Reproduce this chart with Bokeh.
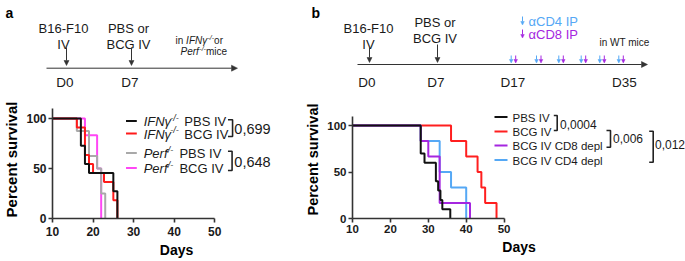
import numpy as np
from bokeh.plotting import figure
from bokeh.layouts import column, row
from bokeh.models import Range1d, Arrow, NormalHead, FixedTicker
from bokeh.core.properties import value
from bokeh.embed import file_html
from bokeh.resources import INLINE

FONT = "Liberation Sans"
TXT = "#1a1a1a"

# ---------------- data: panel a (Kaplan-Meier) ----------------
a_names_main = ["IFNγ", "IFNγ", "Perf", "Perf"]
a_names_rest = ["PBS IV", "BCG IV", "PBS IV", "BCG IV"]
a_colors = ["#111111", "#ff1a1a", "#a9a9a9", "#ff47f5"]
a_ifn_pbs_days = [0, 17, 18, 19, 25, 26]
a_ifn_pbs_surv = [100, 72.7, 54.5, 45.5, 27.3, 0]
a_ifn_bcg_days = [0, 16, 18, 19, 20, 22.7, 25, 26]
a_ifn_bcg_surv = [100, 90.9, 63.6, 54.5, 45.5, 36.4, 18.2, 0]
a_perf_pbs_days = [0, 16, 19, 21, 22, 23]
a_perf_pbs_surv = [100, 87.5, 62.5, 50, 25, 0]
a_perf_bcg_days = [0, 18, 21, 22]
a_perf_bcg_surv = [100, 83.3, 50, 0]
a_pvalues = ["0,699", "0,648"]

# ---------------- data: panel b (Kaplan-Meier) ----------------
b_names = ["PBS IV", "BCG IV", "BCG IV CD8 depl", "BCG IV CD4 depl"]
b_colors = ["#111111", "#ff1f1f", "#a526e0", "#55a8f5"]
b_pbs_days = [0, 28, 29, 32, 32.6, 33.2, 33.7, 35.8]
b_pbs_surv = [100, 70, 60, 40, 30, 20, 10, 0]
b_bcg_days = [0, 36, 40, 43, 44, 45, 48]
b_bcg_surv = [100, 83.3, 66.7, 50, 33.3, 16.7, 0]
b_cd8_days = [0, 28, 30, 33, 41]
b_cd8_surv = [100, 83.3, 66.7, 16.7, 0]
b_cd4_days = [0, 28, 33, 36, 40]
b_cd4_surv = [100, 83.3, 50, 33.3, 0]
b_pvalues = ["0,0004", "0,006", "0,012"]

x_ticks = [10, 20, 30, 40, 50]
y_ticks = [0, 50, 100]

# ---------------- schematic (timelines) ----------------
tl_a_events = [["B16-F10", "IV"], ["PBS or", "BCG IV"]]
tl_a_days = ["D0", "D7"]
tl_b_events = [["B16-F10", "IV"], ["PBS or", "BCG IV"]]
tl_b_days = ["D0", "D7", "D17", "D35"]
tl_b_inject = ["αCD4 IP", "αCD8 IP"]


def txt(p, x, y, s, size, style="normal", color=TXT, align="left", baseline="alphabetic"):
    p.text(x=[x], y=[y], text=[s], text_font=value(FONT), text_font_size=f"{size}px",
           text_font_style=style, text_color=color, text_align=align, text_baseline=baseline)


def arrow(p, x0, y0, x1, y1, color="#333333", head=5, lw=1.0):
    p.add_layout(Arrow(x_start=x0, y_start=y0, x_end=x1, y_end=y1, line_color=color, line_width=lw,
                       end=NormalHead(size=head, fill_color=color, line_color=color, line_width=0.5)))


def schematic(width):
    p = figure(width=width, height=100, output_backend="svg", toolbar_location=None,
               x_range=Range1d(0, width), y_range=Range1d(100, 0),
               x_axis_location=None, y_axis_location=None,
               min_border=0, min_border_left=0, min_border_right=0, min_border_top=0, min_border_bottom=0)
    p.outline_line_color = None
    p.xgrid.visible = False
    p.ygrid.visible = False
    return p


# ---- timeline a ----
ta = schematic(300)
txt(ta, 5, 12.5, "a", 14, "bold", "#000000")
ev_x_a = [63, 128]
ar_x_a = [66, 131]
for ev, ex, axx, d in zip(tl_a_events, ev_x_a, ar_x_a, tl_a_days):
    txt(ta, ex, 28, ev[0], 13, align="center")
    txt(ta, ex, 44, ev[1], 13, align="center")
    arrow(ta, axx, 47, axx, 65, head=5)
    txt(ta, axx - 1.5, 82, d, 13.5, align="center")
arrow(ta, 46, 67.7, 237, 67.7, head=6)
txt(ta, 175, 40, "in ", 10, baseline="middle")
txt(ta, 185.6, 40, "IFNγ", 10, "italic", baseline="middle")
txt(ta, 207, 37, "-/-", 7, "italic", baseline="middle")
txt(ta, 213.6, 40, " or", 10, baseline="middle")
txt(ta, 180, 50.5, "Perf", 10, "italic", baseline="middle")
txt(ta, 198.8, 47.5, "-/-", 7, "italic", baseline="middle")
txt(ta, 205.4, 50.5, " mice", 10, baseline="middle")

# ---- timeline b ----
tb = schematic(385)
txt(tb, 11, 12.5, "b", 14, "bold", "#000000")
ev_x_b = [68, 134.5]
ev_y_b = [(28, 44), (22, 37.5)]
ar_x_b = [69, 137]
ar_y_b = [47, 44]
for ev, ex, (y1, y2), axx, ay0 in zip(tl_b_events, ev_x_b, ev_y_b, ar_x_b, ar_y_b):
    txt(tb, ex, y1, ev[0], 13, align="center")
    txt(tb, ex, y2, ev[1], 13, align="center")
    arrow(tb, axx, ay0, axx, 62, head=5)
day_x_b = [66.5, 135.5, 212.5, 324]
for d, dx in zip(tl_b_days, day_x_b):
    txt(tb, dx, 82, d, 13.5, align="center")
arrow(tb, 57, 64, 347, 64, head=6)
inj_x = [210.7, 236, 258.3, 280.7, 299.3, 318.3]
inj_cols = [b_colors[3], b_colors[2]]
for ix in inj_x:
    arrow(tb, ix, 55, ix, 62.5, color=inj_cols[0], head=3.5)
    arrow(tb, ix + 4.5, 55, ix + 4.5, 62.5, color=inj_cols[1], head=3.5)
for k, (lab, ly) in enumerate(zip(tl_b_inject, [20.5, 33.5])):
    arrow(tb, 222, ly - 4.5, 222, ly + 4, color=inj_cols[k], head=3.5)
    txt(tb, 228, ly, lab, 13, color=inj_cols[k], baseline="middle")
txt(tb, 299, 42, "in WT mice", 10, baseline="middle")


def style_axes(p, tick_size, label_size, x_stand, y_stand, xl_stand, yl_stand):
    p.outline_line_color = None
    p.xgrid.visible = False
    p.ygrid.visible = False
    for ax in (p.xaxis[0], p.yaxis[0]):
        ax.axis_line_color = "#333333"
        ax.axis_line_width = 1.6
        ax.major_tick_line_color = "#333333"
        ax.major_tick_line_width = 1.6
        ax.major_tick_out = 4
        ax.major_tick_in = 0
        ax.minor_tick_line_color = None
        ax.major_label_text_font = FONT
        ax.major_label_text_font_style = "bold"
        ax.major_label_text_font_size = f"{tick_size}px"
        ax.major_label_text_color = TXT
        ax.axis_label_text_font = FONT
        ax.axis_label_text_font_style = "bold"
        ax.axis_label_text_color = "#000000"
    p.xaxis.ticker = FixedTicker(ticks=x_ticks)
    p.yaxis.ticker = FixedTicker(ticks=y_ticks)
    p.xaxis.bounds = (10, 50)
    p.yaxis.bounds = (0, 110)
    p.xaxis.axis_label = "Days"
    p.yaxis.axis_label = "Percent survival"
    p.xaxis.axis_label_text_font_size = f"{label_size[0]}px"
    p.yaxis.axis_label_text_font_size = f"{label_size[1]}px"
    p.xaxis.major_label_standoff = x_stand
    p.yaxis.major_label_standoff = y_stand
    p.xaxis.axis_label_standoff = xl_stand
    p.yaxis.axis_label_standoff = yl_stand


# ---------------- panel a survival ----------------
AX0, ASX, AY0, ASY = 47.0, 4.1375, 218.0, 1.0
ax_ = lambda px: 10 + (px - AX0) / ASX
ay_ = lambda py: (AY0 - py) / ASY
pa = figure(width=300, height=161, output_backend="svg", toolbar_location=None,
            x_range=Range1d(10, ax_(300)), y_range=Range1d(0, ay_(100)),
            min_border_left=47, min_border_right=0, min_border_top=0, min_border_bottom=43)
style_axes(pa, 12, (14, 15), 4, 2, 3, 3)
a_series = [(a_ifn_pbs_days, a_ifn_pbs_surv), (a_ifn_bcg_days, a_ifn_bcg_surv),
            (a_perf_pbs_days, a_perf_pbs_surv), (a_perf_bcg_days, a_perf_bcg_surv)]
for (d, s), c in reversed(list(zip(a_series, a_colors))):
    pa.step(d, s, mode="after", line_color=c, line_width=2)
a_rows = [120.5, 133, 152.5, 167.5]
a_sup_x = [167, 167, 161.5, 161.5]
a_rest_x = [181.5, 181.5, 176.5, 176.5]
for main, rest, c, ry, sx, rx in zip(a_names_main, a_names_rest, a_colors, a_rows, a_sup_x, a_rest_x):
    pa.line([ax_(122), ax_(133)], [ay_(ry), ay_(ry)], line_color=c, line_width=2)
    txt(pa, ax_(140), ay_(ry + 0.5), main, 13, "italic", baseline="middle")
    txt(pa, ax_(sx), ay_(ry - 3.5), "-/-", 9, "italic", baseline="middle")
    txt(pa, ax_(rx), ay_(ry + 0.5), rest, 13, baseline="middle")
for (xr, yt, yb), pv, py in zip([(230.7, 119.3, 136), (230.2, 150.7, 170)], a_pvalues, [128, 161]):
    pa.line([ax_(226), ax_(xr), ax_(xr), ax_(226)], [ay_(yt), ay_(yt), ay_(yb), ay_(yb)],
            line_color="#222222", line_width=1.6)
    txt(pa, ax_(232.5), ay_(py), pv, 14.5, baseline="middle")

# ---------------- panel b survival ----------------
BX0, BSX, BY0, BSY = 52.0, 3.79, 218.0, 0.93
bx_ = lambda px: 10 + (px - 300 - BX0) / BSX
by_ = lambda py: (BY0 - py) / BSY
pb = figure(width=385, height=161, output_backend="svg", toolbar_location=None,
            x_range=Range1d(10, bx_(685)), y_range=Range1d(0, by_(100)),
            min_border_left=52, min_border_right=0, min_border_top=0, min_border_bottom=43)
style_axes(pb, 11.5, (14, 14.5), 2, 2, 3, 3)
b_series = [(b_pbs_days, b_pbs_surv), (b_bcg_days, b_bcg_surv),
            (b_cd8_days, b_cd8_surv), (b_cd4_days, b_cd4_surv)]
order = [1, 3, 2, 0]
for i in order:
    d, s = b_series[i]
    pb.step(d, s, mode="after", line_color=b_colors[i], line_width=2)
b_rows = [116.5, 131, 145, 159.5]
for name, c, ry in zip(b_names, b_colors, b_rows):
    pb.line([bx_(494), bx_(507)], [by_(ry), by_(ry)], line_color=c, line_width=2)
    txt(pb, bx_(512), by_(ry + 0.5), name, 11.5, baseline="middle")
b_brackets = [(553.3, 556.7, 115, 130), (606, 610, 130, 146.7), (648.7, 652.7, 130.7, 161.7)]
b_pv_pos = [(559.5, 124), (612.5, 137.5), (654.5, 144)]
for (xl, xr, yt, yb), pv, (px, py) in zip(b_brackets, b_pvalues, b_pv_pos):
    pb.line([bx_(xl), bx_(xr), bx_(xr), bx_(xl)], [by_(yt), by_(yt), by_(yb), by_(yb)],
            line_color="#222222", line_width=1.6)
    txt(pb, bx_(px), by_(py), pv, 12, baseline="middle")

layout = column(row(ta, tb), row(pa, pb))
open("out.html", "w").write(file_html(layout, INLINE))
